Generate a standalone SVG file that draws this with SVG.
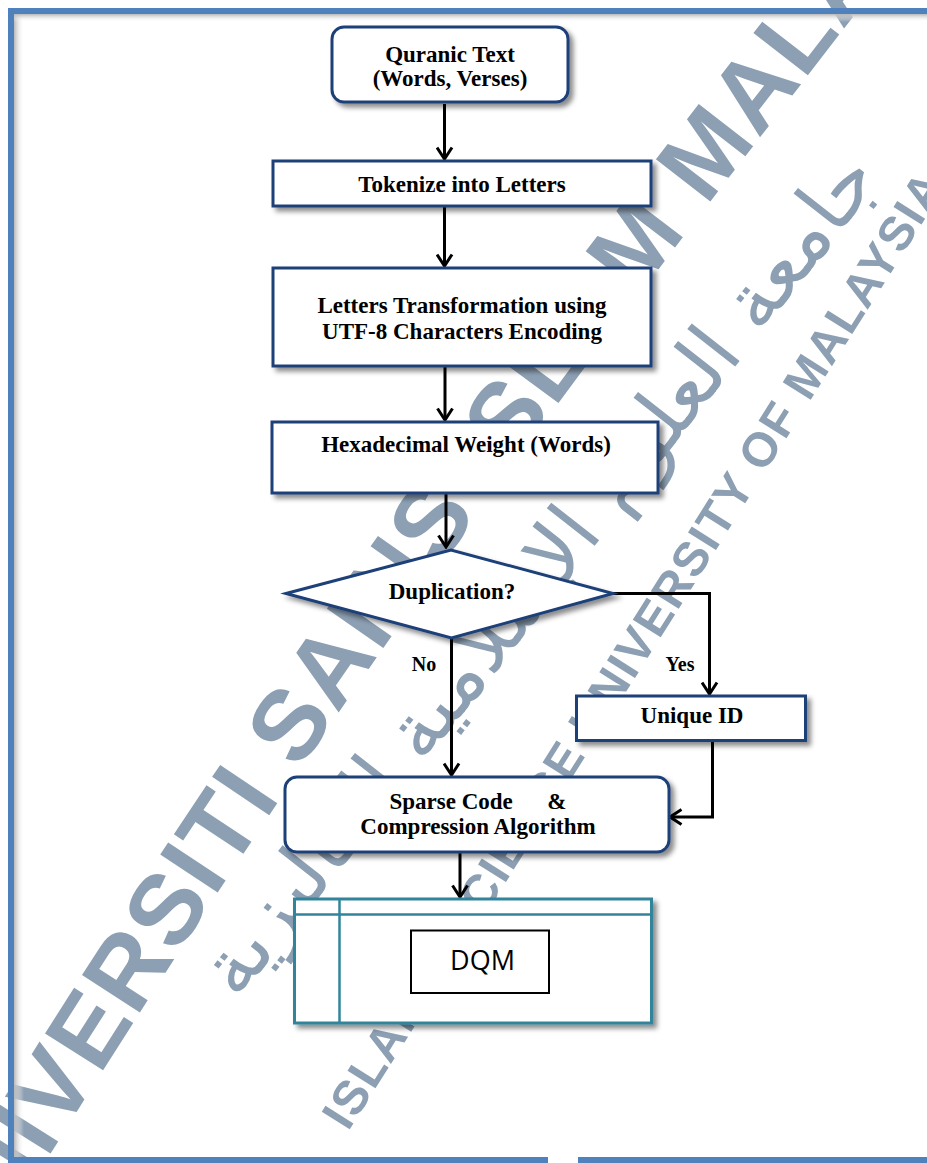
<svg xmlns="http://www.w3.org/2000/svg" width="927" height="1163" viewBox="0 0 927 1163">
<defs>
<style>
.wm{fill:#8c9fb3;font-family:"Liberation Sans",Arial,sans-serif;font-weight:bold}
.wma{fill:#8c9fb3;font-family:"DejaVu Sans",sans-serif}
.node{fill:#ffffff;stroke:#1f3f78;stroke-width:3;filter:url(#sh)}
.dqm{fill:#ffffff;stroke:#31849b;stroke-width:3;filter:url(#sh)}
.t{font-family:"Liberation Serif","Times New Roman",serif;font-weight:bold;font-size:23px;fill:#000;text-anchor:middle}
.lbl{font-family:"Liberation Serif","Times New Roman",serif;font-weight:bold;font-size:20px;fill:#000;text-anchor:middle}
.c{fill:none;stroke:#000;stroke-width:3;marker-end:url(#arr)}
.bd{fill:#4f81bd}
</style>
<filter id="sh" x="-10%" y="-10%" width="125%" height="135%">
<feDropShadow dx="4" dy="4" stdDeviation="2.5" flood-color="#000" flood-opacity="0.45"/>
</filter>
<marker id="arr" markerUnits="userSpaceOnUse" viewBox="0 0 15 18" markerWidth="15" markerHeight="18" refX="13" refY="9" orient="auto">
<path d="M1.5,1.5 L13,9 L1.5,16.5" fill="none" stroke="#000" stroke-width="3"/>
</marker>
<linearGradient id="gl" x1="0" y1="0" x2="1" y2="0"><stop offset="0" stop-color="#b8b8b8"/><stop offset="1" stop-color="#ffffff" stop-opacity="0"/></linearGradient>
<linearGradient id="gt" x1="0" y1="0" x2="0" y2="1"><stop offset="0" stop-color="#b8b8b8"/><stop offset="1" stop-color="#ffffff" stop-opacity="0"/></linearGradient>
<path id="pOuter" d="M -32 1285 L 80.5 1106 Q 383 624 731.5 174 L 1037.5 -221.5"/>
<path id="pInner" d="M 348 1132 L 1016 75"/>
<path id="pArab" d="M 160 1100 L 960 80"/>
</defs>
<rect width="927" height="1163" fill="#ffffff"/>
<g id="watermark">
<text class="wm" font-size="100" letter-spacing="2"><textPath href="#pOuter">UNIVERSITI SAINS ISLAM MALAYSIA</textPath></text>
<text class="wm" font-size="48" letter-spacing="1.5"><textPath href="#pInner">ISLAMIC SCIENCE UNIVERSITY OF MALAYSIA</textPath></text>
<text class="wma" font-size="80" text-anchor="middle"><textPath href="#pArab" startOffset="50%">جامعة العلوم الإسلامية الماليزية</textPath></text>
</g>
<g id="page-border">
<rect x="14" y="14" width="10" height="1143" fill="url(#gl)"/>
<rect x="14" y="14" width="913" height="8" fill="url(#gt)"/>
<rect class="bd" x="8" y="8" width="919" height="6"/>
<rect class="bd" x="8" y="8" width="6" height="1155"/>
<rect class="bd" x="8" y="1157" width="540" height="6"/>
<rect class="bd" x="578" y="1157" width="349" height="6"/>
</g>
<g id="connectors">
<line class="c" x1="444.5" y1="104" x2="444.5" y2="159"/>
<line class="c" x1="444.5" y1="207" x2="444.5" y2="266"/>
<line class="c" x1="445" y1="367" x2="445" y2="420"/>
<line class="c" x1="446" y1="494" x2="446" y2="547"/>
<line class="c" x1="451.5" y1="639" x2="451.5" y2="775"/>
<polyline class="c" points="613,593.5 709.5,593.5 709.5,694"/>
<polyline class="c" points="712.5,741 712.5,817 670,817"/>
<line class="c" x1="460" y1="853" x2="460" y2="897"/>
<text class="lbl" x="424" y="671">No</text>
<text class="lbl" x="680" y="671">Yes</text>
</g>
<g id="n-quranic">
<rect class="node" x="332" y="27" width="236" height="75" rx="12"/>
<text class="t" x="450" y="62">Quranic Text</text>
<text class="t" x="450" y="86">(Words, Verses)</text>
</g>
<g id="n-tokenize">
<rect class="node" x="273" y="161" width="378" height="45"/>
<text class="t" x="462" y="192">Tokenize into Letters</text>
</g>
<g id="n-transform">
<rect class="node" x="273" y="268" width="378" height="98"/>
<text class="t" x="462" y="313">Letters Transformation using</text>
<text class="t" x="462" y="338.5">UTF-8 Characters Encoding</text>
</g>
<g id="n-hex">
<rect class="node" x="272" y="422" width="386" height="71"/>
<text class="t" x="466" y="452">Hexadecimal Weight (Words)</text>
</g>
<g id="n-dup">
<polygon class="node" stroke-width="2.5" points="286,593.5 451,550 613,593.5 451.5,638"/>
<text class="t" x="452" y="599">Duplication?</text>
</g>
<g id="n-unique">
<rect class="node" x="576.5" y="696" width="229" height="44.5"/>
<text class="t" x="692" y="723">Unique ID</text>
</g>
<g id="n-sparse">
<rect class="node" x="285" y="777" width="384" height="75" rx="12"/>
<text class="t" x="389.5" y="809" style="text-anchor:start" xml:space="preserve">Sparse Code      &amp;</text>
<text class="t" x="478" y="834">Compression Algorithm</text>
</g>
<g id="n-dqm">
<rect class="dqm" x="294.5" y="899" width="357" height="124"/>
<line x1="294.5" y1="914.5" x2="651.5" y2="914.5" stroke="#31849b" stroke-width="2.5"/>
<line x1="339.5" y1="899" x2="339.5" y2="1023" stroke="#31849b" stroke-width="2.5"/>
<rect x="411" y="930.5" width="138" height="62.5" fill="#ffffff" stroke="#000" stroke-width="2"/>
<text x="482.5" y="969.5" font-family="'Open Sans','Noto Sans',sans-serif" font-size="27" fill="#000" text-anchor="middle">DQM</text>
</g>
</svg>
